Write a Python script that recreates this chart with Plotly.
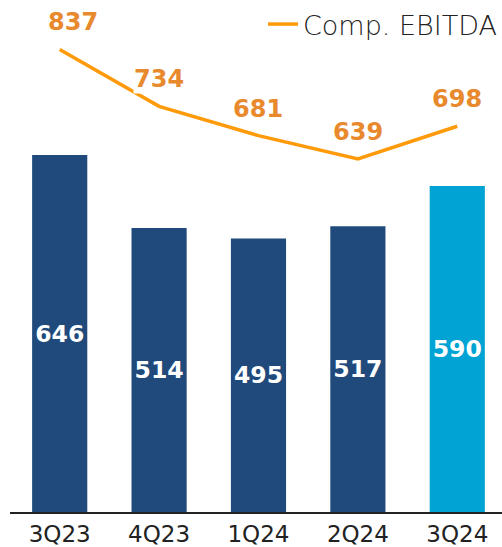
import plotly.graph_objects as go

quarters = ["3Q23", "4Q23", "1Q24", "2Q24", "3Q24"]
bar_values = [646, 514, 495, 517, 590]
ebitda_values = [837, 734, 681, 639, 698]
bar_colors = ["#204A7C", "#204A7C", "#204A7C", "#204A7C", "#00A3D3"]
label_xshift = [13, 0, 0, 0, 0]

fig = go.Figure()

fig.add_trace(go.Bar(
    x=quarters,
    y=bar_values,
    marker=dict(color=bar_colors, line=dict(width=0)),
    text=[str(v) for v in bar_values],
    textposition="inside",
    insidetextanchor="middle",
    textangle=0,
    textfont=dict(family="DejaVu Sans", size=26, color="white", weight="bold"),
    showlegend=False,
    cliponaxis=False,
))

fig.add_trace(go.Scatter(
    x=quarters,
    y=ebitda_values,
    mode="lines",
    line=dict(color="#FF9A0A", width=3.5),
    name="Comp. EBITDA",
    cliponaxis=False,
))

# value labels above the EBITDA line, with a white box that breaks the line
for q, v, dx in zip(quarters, ebitda_values, label_xshift):
    fig.add_annotation(
        x=q, y=v, text=f"<b>{v}</b>",
        showarrow=False, yshift=27, xshift=dx,
        font=dict(family="DejaVu Sans", size=24, color="#E8892E"),
        bgcolor="white", borderpad=0,
    )

fig.update_layout(
    width=502, height=547,
    margin=dict(l=10, r=0, t=0, b=35),
    plot_bgcolor="white", paper_bgcolor="white",
    bargap=0.445,
    legend=dict(
        orientation="h", x=1.0, y=1.0, xanchor="right", yanchor="top",
        font=dict(family="DejaVu Sans", size=27, color="#222222", weight=200),
        bgcolor="rgba(0,0,0,0)",
    ),
    xaxis=dict(
        range=[-0.5, 4.45],
        showline=True, linecolor="#222222", linewidth=2,
        ticks="", showgrid=False,
        tickfont=dict(family="DejaVu Sans", size=23, color="#222222"),
    ),
    yaxis=dict(
        range=[0, 926.5],
        visible=False, showgrid=False, zeroline=False,
    ),
)

fig.write_html("out.html")
